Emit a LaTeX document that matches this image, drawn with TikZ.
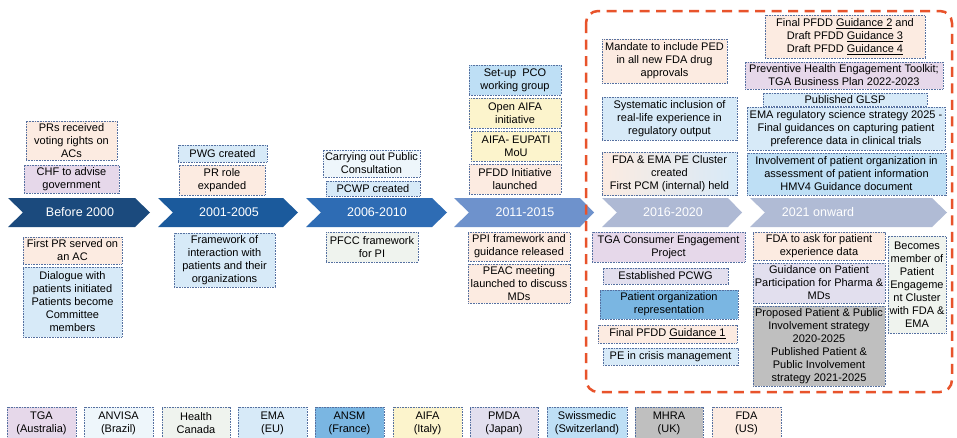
\documentclass[tikz,border=0pt]{standalone}
\usepackage{fontspec}
\setmainfont{Liberation Sans}
\definecolor{bordc}{HTML}{5570A0}
\definecolor{cTGA}{HTML}{E6D8EA}
\definecolor{cANVISA}{HTML}{EEF6FB}
\definecolor{cHC}{HTML}{EFF3EE}
\definecolor{cEMA}{HTML}{D7EAF8}
\definecolor{cANSM}{HTML}{7AB6E2}
\definecolor{cAIFA}{HTML}{FCF4CC}
\definecolor{cPMDA}{HTML}{E2DFEE}
\definecolor{cSWISS}{HTML}{BEDFF5}
\definecolor{cMHRA}{HTML}{BFBFBF}
\definecolor{cFDA}{HTML}{FCEBE1}
\definecolor{chA}{HTML}{1B4A7D}
\definecolor{chB}{HTML}{1B5A9C}
\definecolor{chC}{HTML}{2E6CB4}
\definecolor{chD}{HTML}{6E92CC}
\definecolor{chE}{HTML}{AEB9D4}
\definecolor{chF}{HTML}{B0BBD5}
\definecolor{redd}{HTML}{E8532B}
\begin{document}
\begin{tikzpicture}[x=1pt,y=-1pt,
  bx/.style={draw=bordc, line width=0.8pt, dash pattern=on 0.8pt off 0.8pt, inner sep=0.5pt, align=center, font=\fontsize{11}{13}\selectfont},
  chlabel/.style={text=white, font=\fontsize{12.5}{14}\selectfont}]
\useasboundingbox (0,0) rectangle (957,437);
\clip (0,0) rectangle (957,437);
\fill[white] (0,0) rectangle (957,437);
% chevrons
\fill[chA] (8,198) -- (135,198) -- (150,212.5) -- (135,227) -- (8,227) -- (23,212.5) -- cycle;
\fill[chB] (158,198) -- (283,198) -- (298,212.5) -- (283,227) -- (158,227) -- (173,212.5) -- cycle;
\fill[chC] (306,198) -- (432,198) -- (447,212.5) -- (432,227) -- (306,227) -- (321,212.5) -- cycle;
\fill[chD] (454,198) -- (580,198) -- (594,212.5) -- (580,227) -- (454,227) -- (469,212.5) -- cycle;
\fill[chE] (602,198) -- (728,198) -- (742,212.5) -- (728,227) -- (602,227) -- (617,212.5) -- cycle;
\fill[chF] (750,198) -- (932,198) -- (947,212.5) -- (932,227) -- (750,227) -- (765,212.5) -- cycle;
\node[chlabel] (c1) at (80,212.5) {Before 2000};
\node[chlabel] (c2) at (229,212.5) {2001-2005};
\node[chlabel] (c3) at (377,212.5) {2006-2010};
\node[chlabel] (c4) at (525,212.5) {2011-2015};
\node[chlabel] (c5) at (673,212.5) {2016-2020};
\node[chlabel] (c6) at (818,212.5) {2021 onward};
% Before 2000
\node[bx, fill=cFDA, minimum width=91pt, minimum height=39pt] (b1) at (71.5,140.5) {PRs received\\voting rights on\\ACs};
\node[bx, fill=cTGA, minimum width=95pt, minimum height=28pt] (b2) at (71.5,179) {CHF to advise\\government};
\node[bx, fill=cFDA, minimum width=99pt, minimum height=27pt] (b3) at (72.5,250.5) {First PR served on\\an AC};
\node[bx, fill=cEMA, minimum width=99pt, minimum height=70pt] (b4) at (72.5,302) {Dialogue with\\patients initiated\\Patients become\\Committee\\members};
% 2001-2005
\node[bx, fill=cEMA, minimum width=89pt, minimum height=17pt] (b5) at (222.5,153.5) {PWG created};
\node[bx, fill=cFDA, minimum width=86pt, minimum height=30pt] (b6) at (222,180) {PR role\\expanded};
\node[bx, fill=cEMA, minimum width=101pt, minimum height=54pt] (b7) at (224.5,260) {Framework of\\interaction with\\patients and their\\organizations};
% 2006-2010
\node[bx, fill=cANVISA, minimum width=97pt, minimum height=27pt] (b8) at (371.5,163.5) {Carrying out Public\\Consultation};
\node[bx, fill=cEMA, minimum width=94pt, minimum height=15pt] (b9) at (373,188.5) {PCWP created};
\node[bx, fill=cHC, minimum width=92pt, minimum height=30pt] (b10) at (372,247) {PFCC framework\\for PI};
% 2011-2015
\node[bx, fill=cSWISS, minimum width=92pt, minimum height=30pt] (b11) at (515,80) {Set-up\ \ PCO\\working group};
\node[bx, fill=cAIFA, minimum width=92pt, minimum height=30pt] (b12) at (515,113) {Open AIFA\\initiative};
\node[bx, fill=cAIFA, minimum width=90pt, minimum height=30pt] (b13) at (516,146) {AIFA- EUPATI\\MoU};
\node[bx, fill=cFDA, minimum width=92pt, minimum height=30pt] (b14) at (515,179) {PFDD Initiative\\launched};
\node[bx, fill=cFDA, minimum width=102pt, minimum height=29pt] (b15) at (519,246.5) {PPI framework and\\guidance released};
\node[bx, fill=cFDA, minimum width=102pt, minimum height=39pt] (b16) at (519,283.5) {PEAC meeting\\launched to discuss\\MDs};
% 2016-2020
\node[bx, fill=cFDA, minimum width=125pt, minimum height=44pt] (b17) at (664.5,61) {Mandate to include PED\\in all new FDA drug\\approvals};
\node[bx, fill=cEMA, minimum width=135pt, minimum height=43pt] (b18) at (669.5,118.5) {Systematic inclusion of\\real-life experience in\\regulatory output};
\node[bx, left color=cFDA, right color=cEMA, minimum width=135pt, minimum height=43pt] (b19) at (669.5,173.5) {FDA \& EMA PE Cluster\\created\\First PCM (internal) held};
\node[bx, fill=cTGA, minimum width=153pt, minimum height=30pt] (b25) at (668.5,247) {TGA Consumer Engagement\\Project};
\node[bx, fill=cPMDA, minimum width=125pt, minimum height=16pt] (b26) at (665.5,276) {Established PCWG};
\node[bx, fill=cANSM, minimum width=138pt, minimum height=29pt] (b27) at (669,304.5) {Patient organization\\representation};
\node[bx, fill=cFDA, minimum width=139pt, minimum height=18pt] (b28) at (667.5,334) {Final PFDD \underline{Guidance 1}};
\node[bx, fill=cEMA, minimum width=135pt, minimum height=17pt] (b29) at (670.5,356.5) {PE in crisis management};
% 2021 onward
\node[bx, fill=cFDA, minimum width=160pt, minimum height=43pt] (b20) at (845,36.5) {Final PFDD \underline{Guidance 2} and\\Draft PFDD \underline{Guidance 3}\\Draft PFDD \underline{Guidance 4}};
\node[bx, fill=cTGA, minimum width=198pt, minimum height=27pt] (b21) at (844,75.5) {Preventive Health Engagement Toolkit;\\TGA Business Plan 2022-2023};
\node[bx, fill=cEMA, minimum width=164pt, minimum height=13pt] (b22) at (845,99.5) {Published GLSP};
\node[bx, fill=cEMA, minimum width=198pt, minimum height=43pt] (b23) at (846,128.5) {EMA regulatory science strategy 2025 -\\Final guidances on capturing patient\\preference data in clinical trials};
\node[bx, fill=cSWISS, minimum width=199pt, minimum height=42pt] (b24) at (846.5,174) {Involvement of patient organization in\\assessment of patient information\\HMV4 Guidance document};
\node[bx, fill=cFDA, minimum width=132pt, minimum height=28pt] (b30) at (819,246) {FDA to ask for patient\\experience data};
\node[bx, fill=cPMDA, minimum width=132pt, minimum height=40pt] (b31) at (819,283) {Guidance on Patient\\Participation for Pharma \&\\MDs};
\node[bx, fill=cMHRA, minimum width=132pt, minimum height=80pt] (b32) at (819,346) {Proposed Patient \& Public\\Involvement strategy\\2020-2025\\Published Patient \&\\Public Involvement\\strategy 2021-2025};
\node[bx, fill=cHC, minimum width=58pt, minimum height=97pt] (b33) at (917,284.5) {Becomes\\member of\\Patient\\Engageme\\nt Cluster\\with FDA \&\\EMA};
% legend
\node[bx, fill=cTGA, minimum width=69pt, minimum height=33pt] (l1) at (41.5,423.5) {TGA\\(Australia)};
\node[bx, fill=cANVISA, minimum width=69pt, minimum height=33pt] (l2) at (118.5,423.5) {ANVISA\\(Brazil)};
\node[bx, fill=cHC, minimum width=68pt, minimum height=33pt] (l3) at (196,423.5) {Health\\Canada};
\node[bx, fill=cEMA, minimum width=69pt, minimum height=33pt] (l4) at (272.5,423.5) {EMA\\(EU)};
\node[bx, fill=cANSM, minimum width=69pt, minimum height=33pt] (l5) at (349.5,423.5) {ANSM\\(France)};
\node[bx, fill=cAIFA, minimum width=69pt, minimum height=33pt] (l6) at (427.5,423.5) {AIFA\\(Italy)};
\node[bx, fill=cPMDA, minimum width=68pt, minimum height=33pt] (l7) at (504,423.5) {PMDA\\(Japan)};
\node[bx, fill=cSWISS, minimum width=80pt, minimum height=33pt] (l8) at (587,423.5) {Swissmedic\\(Switzerland)};
\node[bx, fill=cMHRA, minimum width=68pt, minimum height=33pt] (l9) at (669,423.5) {MHRA\\(UK)};
\node[bx, fill=cFDA, minimum width=69pt, minimum height=33pt] (l10) at (746.5,423.5) {FDA\\(US)};
% red dashed frame
\draw[redd, line width=2.5pt, dash pattern=on 10pt off 6.5pt, rounded corners=12pt] (586,11) rectangle (952,392);
\end{tikzpicture}
\end{document}
